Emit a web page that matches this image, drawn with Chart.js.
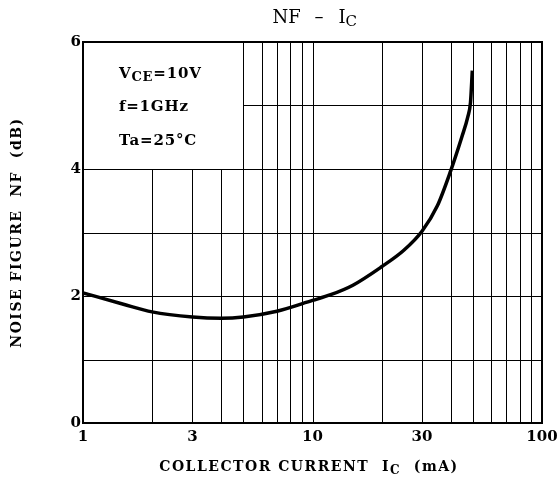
<!DOCTYPE html>
<html>
<head>
<meta charset="utf-8">
<script src="https://cdn.jsdelivr.net/npm/chart.js@4/dist/chart.umd.min.js"></script>
<style>
  html, body { margin: 0; padding: 0; background: #fff; }
  #wrap { width: 557px; height: 486px; position: relative; }
</style>
</head>
<body>
<div id="wrap"><canvas id="nfChart" width="557" height="486"></canvas></div>
<script>
// Data
const currentMA = [1, 1.5, 2, 3, 4, 5, 7, 10, 12, 15, 20, 25, 30, 35, 40, 44.7, 47.5, 48.8, 49.7];
const noiseFigureDB = [2.05, 1.87, 1.75, 1.67, 1.65, 1.67, 1.76, 1.93, 2.02, 2.17, 2.46, 2.72, 3.02, 3.42, 3.97, 4.5, 4.82, 5.05, 5.55];

// Axis ticks and grid
const xTickLabels = [1, 3, 10, 30, 100];
const yTickLabels = [0, 2, 4, 6];
const xGridValues = [2, 3, 4, 5, 6, 7, 8, 9, 10, 20, 30, 40, 50, 60, 70, 80, 90];
const yGridValues = [1, 2, 3, 4, 5];
const conditions = [["V", "CE", "=10V"], ["f=1GHz", "", ""], ["Ta=25\u00B0C", "", ""]];

const points = currentMA.map((x, i) => ({ x, y: noiseFigureDB[i] }));

const serif = "'DejaVu Serif', 'Liberation Serif', serif";

// draw text with a subscript part, returns end x
function drawSub(ctx, x, y, main, sub, rest, size, weight) {
    ctx.font = `${weight} ${size}px ${serif}`;
    ctx.fillText(main, x, y);
    x += ctx.measureText(main).width;
    if (sub) {
        ctx.font = `${weight} ${Math.round(size * 0.85)}px ${serif}`;
        ctx.fillText(sub, x, y + size * 0.25);
        x += ctx.measureText(sub).width;
    }
    if (rest) {
        ctx.font = `${weight} ${size}px ${serif}`;
        ctx.fillText(rest, x, y);
        x += ctx.measureText(rest).width;
    }
    return x;
}

function subWidth(ctx, main, sub, rest, size, weight) {
    let w = 0;
    ctx.font = `${weight} ${size}px ${serif}`;
    w += ctx.measureText(main).width + ctx.measureText(rest).width;
    ctx.font = `${weight} ${Math.round(size * 0.85)}px ${serif}`;
    w += ctx.measureText(sub).width;
    return w;
}

const gridPlugin = {
    id: "datasheetGrid",
    beforeDatasetsDraw(chart) {
        const { ctx, chartArea: a, scales: { x, y } } = chart;
        ctx.save();
        ctx.strokeStyle = "#000";
        ctx.lineWidth = 1;
        // verticals: left of 5 mA they stop under the condition box
        xGridValues.forEach((v) => {
            const px = Math.round(x.getPixelForValue(v)) + 0.5;
            const top = v < 5 ? y.getPixelForValue(4) : a.top;
            ctx.beginPath();
            ctx.moveTo(px, a.bottom);
            ctx.lineTo(px, top);
            ctx.stroke();
        });
        yGridValues.forEach((v) => {
            const py = Math.round(y.getPixelForValue(v)) + 0.5;
            const left = v > 4 ? x.getPixelForValue(5) : a.left;
            ctx.beginPath();
            ctx.moveTo(left, py);
            ctx.lineTo(a.right, py);
            ctx.stroke();
        });
        ctx.lineWidth = 2;
        ctx.strokeRect(a.left, a.top, a.right - a.left, a.bottom - a.top);
        ctx.restore();
    },
    afterDraw(chart) {
        const { ctx, chartArea: a } = chart;
        ctx.save();
        ctx.fillStyle = "#000";
        ctx.textBaseline = "middle";
        ctx.textAlign = "left";

        // title
        const cx = (a.left + a.right) / 2;
        ctx.font = `normal 18px ${serif}`;
        let tx = cx - 40;
        ctx.fillText("NF", tx, 18);
        ctx.fillText("\u2013", tx + 42, 18);
        drawSub(ctx, tx + 66, 18, "I", "C", "", 18, "normal");

        // conditions box
        ctx.letterSpacing = "0.8px";
        conditions.forEach((c, i) => {
            drawSub(ctx, 119, 74 + i * 33.5, c[0], c[1], c[2], 15, "bold");
        });

        // x axis title
        ctx.letterSpacing = "1.5px";
        const xw = subWidth(ctx, "COLLECTOR CURRENT  I", "C", "  (mA)", 14, "bold");
        drawSub(ctx, 309 - xw / 2, 467, "COLLECTOR CURRENT  I", "C", "  (mA)", 14, "bold");

        // y axis title
        ctx.translate(17, (a.top + a.bottom) / 2);
        ctx.rotate(-Math.PI / 2);
        ctx.font = `bold 14px ${serif}`;
        const yl = "NOISE FIGURE  NF  (dB)";
        ctx.fillText(yl, -ctx.measureText(yl).width / 2, 0);
        ctx.restore();
    },
};

const ctx = document.getElementById("nfChart").getContext("2d");
new Chart(ctx, {
    type: "line",
    data: {
        datasets: [
            {
                data: points,
                borderColor: "#000",
                borderWidth: 3.5,
                pointRadius: 0,
                cubicInterpolationMode: "monotone",
                fill: false,
            },
        ],
    },
    options: {
        responsive: false,
        animation: false,
        layout: { padding: { top: 42, right: 15, left: 0, bottom: 0 } },
        plugins: { legend: { display: false }, tooltip: { enabled: false }, title: { display: false } },
        scales: {
            x: {
                type: "logarithmic",
                min: 1,
                max: 100,
                grid: { display: false, drawTicks: false },
                border: { display: false },
                afterFit: (s) => { s.height = 63; s.paddingLeft = 0; s.paddingRight = 0; },
                afterBuildTicks: (s) => { s.ticks = xTickLabels.map((v) => ({ value: v })); },
                ticks: {
                    autoSkip: false,
                    maxRotation: 0,
                    padding: 5,
                    color: "#000",
                    font: { family: serif, size: 15, weight: "bold" },
                    callback: (v) => String(v),
                },
            },
            y: {
                min: 0,
                max: 6,
                grid: { display: false, drawTicks: false },
                border: { display: false },
                afterFit: (s) => { s.width = 83; s.paddingTop = 0; s.paddingBottom = 0; },
                afterBuildTicks: (s) => { s.ticks = yTickLabels.map((v) => ({ value: v })); },
                ticks: {
                    padding: 2,
                    color: "#000",
                    font: { family: serif, size: 15, weight: "bold" },
                },
            },
        },
    },
    plugins: [gridPlugin],
});
</script>
</body>
</html>
